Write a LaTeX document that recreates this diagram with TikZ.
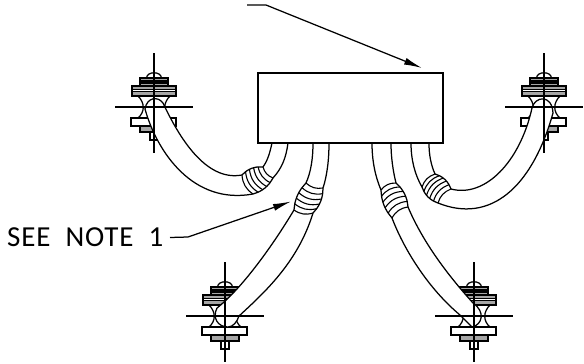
\documentclass[tikz,border=0pt]{standalone}
\usepackage{fontspec}
\newfontfamily\notefont[LetterSpace=3]{Carlito}
\usetikzlibrary{arrows.meta}
\usetikzlibrary{positioning}
\usetikzlibrary{calc}
\tikzset{
	wire/.style={draw, line width=1.25pt},
	band/.style={draw, line width=1.1pt},
	leader/.style={draw, line width=1.25pt, -{Latex[length=18pt,width=7pt]}},
	panel/.style={draw, line width=1.25pt, minimum width=185pt, minimum height=70pt, inner sep=0pt},
	flange/.style={draw, line width=1.25pt, fill=gray!70},
	collar/.style={draw, line width=1.1pt, fill=white},
}
% #1,#2 = centre of the cross
\newcommand{\insulator}[2]{
	\begin{scope}[shift={(#1,#2)}]
		\draw [flange] (-22,-21) rectangle (22,-11);
		\draw [collar] (-22,-17.5) rectangle (22,-15.5);
		\draw [flange] (-14,-29) rectangle (14,-21);
		\draw [collar] (-14,-26) rectangle (14,-24);
		\draw [wire] (-7.5,-29) .. controls (-7,-36) and (7,-36) .. (7.5,-29);
		\draw [wire] (-16,-11) .. controls (-9,-4) and (-9,5) .. (-16,11);
		\draw [wire] (16,-11) .. controls (9,-4) and (9,5) .. (16,11);
		\draw [flange] (-14,19) rectangle (14,25);
		\draw [collar] (-23,11) rectangle (22,19);
		\draw [collar] (-4,25) rectangle (4,33);
	\end{scope}
}
\newcommand{\crosshair}[2]{
	\begin{scope}[shift={(#1,#2)}]
		\draw [wire] (0,-54) -- (0,46);
		\draw [wire] (-39,0) -- (39,0);
	\end{scope}
}
% #1,#2 = inner and outer point at the free end, #3,#4 = at the panel end, #5 = bend
\newcommand{\fitting}[5]{
	\foreach \t/\d in {0/0,0.2/1.8,0.4/2.7,0.6/2.7,0.8/1.8,1/0} {
		\draw [band] ($(#1)!\t!(#3)!\d pt!90:(#3)$) to [#5=26] ($(#2)!\t!(#4)!-\d pt!90:(#4)$);
	}
	\draw [wire] plot [smooth] coordinates {(#1) ($(#1)!0.25!(#3)!2.1pt!90:(#3)$)
		($(#1)!0.5!(#3)!2.8pt!90:(#3)$) ($(#1)!0.75!(#3)!2.1pt!90:(#3)$) (#3)};
	\draw [wire] plot [smooth] coordinates {(#2) ($(#2)!0.25!(#4)!-2.1pt!90:(#4)$)
		($(#2)!0.5!(#4)!-2.8pt!90:(#4)$) ($(#2)!0.75!(#4)!-2.1pt!90:(#4)$) (#4)};
}
\begin{document}
\begin{tikzpicture}[x=1pt, y=-1pt]
	\useasboundingbox (0,0) rectangle (584,364);
	\node [panel] (box) at (350.5,108) {};
	\insulator{154}{107}
	\insulator{544}{107}
	\insulator{225}{316}
	\insulator{474}{316}
	%% Hide what the tubes pass in front of
	\fill [white] (145,109) .. controls (147,97) and (158,96) .. (163,103) .. controls (178,135) and (205,182) .. (242,175) -- (253,194) .. controls (193,205) and (157,152) .. (145,109) -- cycle;
	\fill [white] (217,308) .. controls (212,318) and (218,327) .. (228,327) .. controls (233,327) and (237,322) .. (239,316) .. controls (265,292) and (298,262) .. (313,213) -- (294,210) .. controls (270,250) and (240,290) .. (217,308) -- cycle;
	\fill [white] (460,315) -- (472,327) .. controls (482,325) and (486,312) .. (473,303) .. controls (445,272) and (422,240) .. (408,207) -- (392,218) .. controls (405,252) and (430,290) .. (460,315) -- cycle;
	\fill [white] (532,108) .. controls (535,96) and (552,94) .. (553,113) .. controls (532,188) and (490,224) .. (438,203) -- (451,189) .. controls (485,198) and (520,162) .. (532,108) -- cycle;
	\crosshair{154}{107}
	\crosshair{544}{107}
	\crosshair{225}{316}
	\crosshair{474}{316}
	%% Top left
	\draw [wire] (145,109) .. controls (157,152) and (193,205) .. (253,194);
	\draw [wire] (163,103) .. controls (178,135) and (205,182) .. (242,175);
	\draw [wire] (145,109) .. controls (147,97) and (158,96) .. (163,103);
	\fitting{242,175}{253,194}{263,167}{273,178}{bend right}
	\draw [wire] (272,143) .. controls (270,152) and (268,160) .. (263,167);
	\draw [wire] (288,143) .. controls (286,158) and (282,168) .. (273,178);
	%% Bottom left
	\draw [wire] (217,308) .. controls (240,290) and (270,250) .. (294,210);
	\draw [wire] (239,316) .. controls (265,292) and (298,262) .. (313,213);
	\draw [wire] (217,308) .. controls (212,318) and (218,327) .. (228,327) .. controls (233,327) and (237,322) .. (239,316);
	\fitting{294,210}{313,213}{306,183}{323,188}{bend right}
	\draw [wire] (313,143) .. controls (313,158) and (311,172) .. (306,183);
	\draw [wire] (329,143) .. controls (329,160) and (327,176) .. (323,188);
	%% Bottom right
	\draw [wire] (408,207) .. controls (422,240) and (445,272) .. (473,303);
	\draw [wire] (392,218) .. controls (405,252) and (430,290) .. (460,315);
	\draw [wire] (460,315) -- (472,327) .. controls (482,325) and (486,312) .. (473,303);
	\fitting{392,218}{408,207}{381,190}{396,183}{bend left}
	\draw [wire] (372,143) .. controls (372,160) and (375,176) .. (381,190);
	\draw [wire] (391,143) .. controls (391,157) and (393,171) .. (396,183);
	%% Top right
	\draw [wire] (451,189) .. controls (485,198) and (520,162) .. (532,108);
	\draw [wire] (438,203) .. controls (490,224) and (532,188) .. (553,113);
	\draw [wire] (532,108) .. controls (535,96) and (552,94) .. (553,113);
	\fitting{438,203}{451,189}{422,187}{435,174}{bend left}
	\draw [wire] (411,143) .. controls (411,160) and (415,175) .. (422,187);
	\draw [wire] (429,143) .. controls (429,155) and (431,165) .. (435,174);
	%% Leaders
	\node [inner sep=0pt, anchor=west, font=\notefont\fontsize{29}{29}\selectfont] (note) at (7,237) {\spaceskip=15pt SEE NOTE 1};
	\coordinate (noteA) at (170,237.5);
	\coordinate (noteB) at (188,237);
	\coordinate (noteC) at (291,201.5);
	\path [leader] (noteA) -- (noteB) -- (noteC);
	\coordinate (topA) at (247,5);
	\coordinate (topB) at (266,5);
	\coordinate (topC) at (422,68);
	\path [leader] (topA) -- (topB) -- (topC);
\end{tikzpicture}
\end{document}
